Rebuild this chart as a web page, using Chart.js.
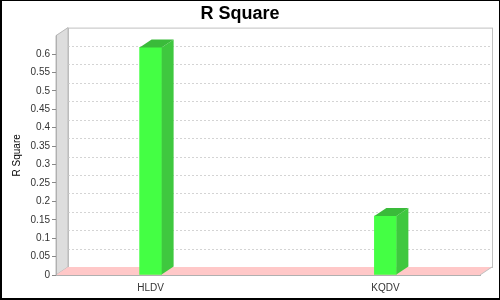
<!DOCTYPE html>
<html>
<head>
<meta charset="utf-8">
<script src="https://cdn.jsdelivr.net/npm/chart.js@4.4.0/dist/chart.umd.min.js"></script>
<style>
    html, body { margin: 0; padding: 0; background: #fff; }
    #wrap { width: 500px; height: 300px; }
</style>
</head>
<body>
<div id="wrap"><canvas id="rsquareChart" width="500" height="300"></canvas></div>
<script>
// chart data
const categories = ['HLDV', 'KQDV'];
const rSquare = [0.618, 0.16];
const yTicks = [0, 0.05, 0.1, 0.15, 0.2, 0.25, 0.3, 0.35, 0.4, 0.45, 0.5, 0.55, 0.6];

// 3D depth offset, like the old jfreechart look
const DX = 12;
const DY = 8;

const threeDPlugin = {
    id: 'threeD',
    beforeDraw(chart) {
        const ctx = chart.ctx;
        const { left, right, top, bottom } = chart.chartArea;
        const y = chart.scales.y;

        ctx.save();
        ctx.fillStyle = '#fff';
        ctx.fillRect(0, 0, chart.width, chart.height);

        // back wall
        ctx.fillStyle = '#fff';
        ctx.strokeStyle = '#c0c0c0';
        ctx.lineWidth = 1;
        ctx.fillRect(left + DX, top - DY, right - left, bottom - top);
        ctx.strokeRect(left + DX + 0.5, top - DY + 0.5, right - left, bottom - top);

        // gridlines on the back wall
        ctx.setLineDash([2, 2]);
        ctx.strokeStyle = '#d4d4d4';
        yTicks.forEach(v => {
            if (v === 0) return;
            const py = Math.round(y.getPixelForValue(v) - DY) + 0.5;
            ctx.beginPath();
            ctx.moveTo(left + DX, py);
            ctx.lineTo(right + DX, py);
            ctx.stroke();
        });
        ctx.setLineDash([]);

        // left wall
        ctx.fillStyle = '#dddddd';
        ctx.strokeStyle = '#b8b8b8';
        ctx.beginPath();
        ctx.moveTo(left, bottom);
        ctx.lineTo(left, top);
        ctx.lineTo(left + DX, top - DY);
        ctx.lineTo(left + DX, bottom - DY);
        ctx.closePath();
        ctx.fill();
        ctx.stroke();

        // floor
        ctx.fillStyle = '#ffc8c8';
        ctx.strokeStyle = '#c0c0c0';
        ctx.beginPath();
        ctx.moveTo(left, bottom);
        ctx.lineTo(left + DX, bottom - DY);
        ctx.lineTo(right + DX, bottom - DY);
        ctx.lineTo(right, bottom);
        ctx.closePath();
        ctx.fill();
        ctx.beginPath();
        ctx.moveTo(right, bottom);
        ctx.lineTo(right + DX, bottom - DY);
        ctx.stroke();
        ctx.restore();
    },
    afterDatasetsDraw(chart) {
        const ctx = chart.ctx;
        const meta = chart.getDatasetMeta(0);
        ctx.save();
        meta.data.forEach(bar => {
            const p = bar.getProps(['x', 'y', 'base', 'width'], true);
            const x0 = p.x - p.width / 2;
            const x1 = p.x + p.width / 2;

            // side face
            ctx.fillStyle = '#3fc83f';
            ctx.beginPath();
            ctx.moveTo(x1, p.y);
            ctx.lineTo(x1 + DX, p.y - DY);
            ctx.lineTo(x1 + DX, p.base - DY);
            ctx.lineTo(x1, p.base);
            ctx.closePath();
            ctx.fill();

            // top face
            ctx.fillStyle = '#3abb3a';
            ctx.beginPath();
            ctx.moveTo(x0, p.y);
            ctx.lineTo(x0 + DX, p.y - DY);
            ctx.lineTo(x1 + DX, p.y - DY);
            ctx.lineTo(x1, p.y);
            ctx.closePath();
            ctx.fill();
        });
        ctx.restore();
    },
    afterDraw(chart) {
        const ctx = chart.ctx;
        ctx.save();
        ctx.fillStyle = '#000';
        ctx.fillRect(0, 0, chart.width, 1);
        ctx.fillRect(0, 0, 2, chart.height);
        ctx.fillRect(chart.width - 1, 0, 1, chart.height);
        ctx.fillRect(0, chart.height - 2, chart.width, 2);
        ctx.restore();
    }
};

const ctx = document.getElementById('rsquareChart').getContext('2d');
new Chart(ctx, {
    type: 'bar',
    data: {
        datasets: [{
            label: 'R Square',
            data: rSquare.map((v, i) => ({ x: i, y: v })),
            backgroundColor: '#44ff44',
            borderWidth: 0,
            barThickness: 22
        }]
    },
    options: {
        responsive: false,
        animation: false,
        layout: { padding: { left: 0, right: 20, top: 0, bottom: 0 } },
        plugins: {
            legend: { display: false },
            tooltip: { enabled: false },
            title: {
                display: true,
                text: 'R Square',
                color: '#000',
                font: { family: 'Liberation Sans', size: 18, weight: 'bold' },
                padding: { top: 3, bottom: 11 }
            }
        },
        scales: {
            x: {
                type: 'linear',
                offset: false,
                min: -0.403,
                max: 1.403,
                grid: { display: false, drawTicks: false },
                border: { display: true, color: '#b0b0b0' },
                afterBuildTicks: scale => { scale.ticks = categories.map((c, i) => ({ value: i })); },
                afterFit: scale => { scale.height = 25; },
                ticks: {
                    padding: 7,
                    color: '#333',
                    font: { family: 'Liberation Sans', size: 10 },
                    callback: value => categories[value]
                }
            },
            y: {
                min: 0,
                max: 0.65,
                afterBuildTicks: scale => { scale.ticks = yTicks.map(v => ({ value: v })); },
                afterFit: scale => { scale.width = 56; },
                grid: { display: true, drawOnChartArea: false, drawTicks: true, tickLength: 4, color: '#888' },
                border: { display: true, color: '#b0b0b0' },
                title: {
                    display: true,
                    text: 'R Square',
                    color: '#000',
                    font: { family: 'Liberation Sans', size: 10 },
                    padding: { top: 11, bottom: 4 }
                },
                ticks: {
                    padding: 2,
                    color: '#333',
                    font: { family: 'Liberation Sans', size: 10 },
                    callback: value => String(value)
                }
            }
        }
    },
    plugins: [threeDPlugin]
});
</script>
</body>
</html>
